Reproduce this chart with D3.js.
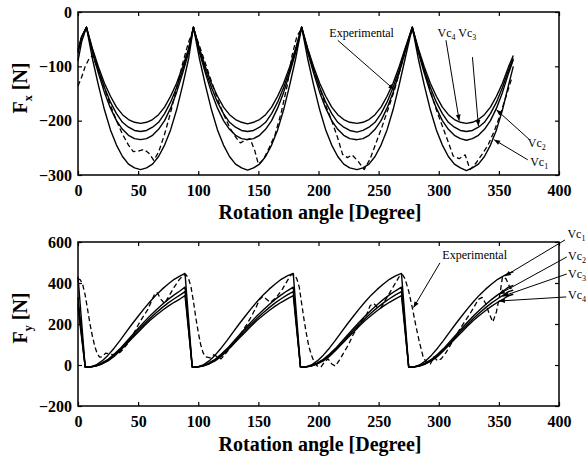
<!DOCTYPE html>
<html>
<head>
<meta charset="utf-8">
<script src="https://cdn.jsdelivr.net/npm/d3@7"></script>
<style>
  body { margin: 0; background: #fff; }
  svg { display: block; }
  svg text { font-family: "Liberation Serif", "DejaVu Serif", serif; }
</style>
</head>
<body>
<div id="chart"></div>
<script>
// ---- data ----
var xTicks = [0, 50, 100, 150, 200, 250, 300, 350, 400];
var fxTicks = [-300, -200, -100, 0];
var fyTicks = [-200, 0, 200, 400, 600];

// Fx panel, simulated curves share one angle list
var angleFx = [0, 3, 7, 12, 17, 22, 27, 32, 37, 42, 47, 52, 57, 62, 67, 72, 77, 82, 87, 92,
  96, 101, 106, 111, 116, 121, 126, 131, 136, 141, 146, 151, 156, 161, 166, 171, 176, 181,
  186, 191, 196, 201, 206, 211, 216, 221, 226, 232, 237, 242, 247, 252, 257, 262, 267, 272,
  278, 283, 288, 293, 298, 303, 308, 313, 318, 323, 328, 333, 338, 343, 348, 353, 358, 362];
var fxVc1 = [-90, -55,
  -28, -86, -135, -180, -217, -245, -266, -280, -287, -290, -287, -280, -266, -245, -217, -180, -135, -86,
  -28, -86, -135, -180, -217, -245, -266, -280, -287, -291, -287, -280, -266, -245, -217, -180, -135, -86,
  -28, -86, -135, -180, -217, -245, -266, -280, -287, -290, -287, -280, -266, -245, -217, -180, -135, -86,
  -28, -86, -135, -180, -217, -245, -266, -280, -287, -292, -287, -280, -266, -245, -217, -180, -135, -100];
var fxVc2 = [-75, -47,
  -28, -74, -113, -148, -177, -200, -216, -227, -233, -235, -233, -227, -216, -200, -177, -148, -113, -74,
  -28, -74, -113, -148, -177, -200, -216, -227, -233, -235, -233, -227, -216, -200, -177, -148, -113, -74,
  -28, -74, -113, -148, -177, -200, -216, -227, -233, -235, -233, -227, -216, -200, -177, -148, -113, -74,
  -28, -74, -113, -148, -177, -200, -216, -227, -233, -236, -233, -227, -216, -200, -177, -148, -113, -88];
var fxVc3 = [-72, -46,
  -28, -70, -107, -139, -166, -187, -203, -212, -218, -220, -218, -212, -203, -187, -166, -139, -107, -70,
  -28, -70, -107, -139, -166, -187, -203, -212, -218, -220, -218, -212, -203, -187, -166, -139, -107, -70,
  -28, -70, -107, -139, -166, -187, -203, -212, -218, -221, -218, -212, -203, -187, -166, -139, -107, -70,
  -28, -70, -107, -139, -166, -187, -203, -212, -218, -220, -218, -212, -203, -187, -166, -139, -107, -85];
var fxVc4 = [-70, -45,
  -28, -67, -101, -131, -155, -175, -189, -198, -203, -205, -203, -198, -189, -175, -155, -131, -101, -67,
  -28, -67, -101, -131, -155, -175, -189, -198, -203, -206, -203, -198, -189, -175, -155, -131, -101, -67,
  -28, -67, -101, -131, -155, -175, -189, -198, -203, -205, -203, -198, -189, -175, -155, -131, -101, -67,
  -28, -67, -101, -131, -155, -175, -189, -198, -203, -205, -203, -198, -189, -175, -155, -131, -101, -80];
// measured Fx (dashed)
var expAngleFx = [0, 3, 6, 9, 12, 17, 22, 27, 32, 37, 42, 46, 50, 55, 59, 63, 67, 72, 77, 82, 87, 92,
  96, 101, 106, 111, 116, 121, 126, 131, 135, 139, 143, 147, 150, 154, 159, 164, 169, 174, 178, 182,
  186, 191, 196, 201, 206, 211, 216, 220, 224, 228, 233, 238, 243, 248, 253, 258, 263, 268, 273,
  278, 283, 288, 293, 298, 303, 308, 312, 317, 322, 326, 331, 336, 341, 346, 351, 356, 361];
var expFx = [-136, -120, -100, -87, -80, -108, -140, -172, -200, -225, -245, -257, -256, -253, -260, -273, -258, -225, -185, -140, -95, -55,
  -32, -62, -95, -128, -160, -188, -212, -230, -241, -236, -233, -255, -280, -272, -250, -225, -185, -135, -80, -45,
  -30, -68, -105, -140, -172, -200, -232, -262, -268, -263, -275, -290, -270, -240, -210, -178, -145, -105, -65,
  -32, -70, -108, -145, -180, -210, -240, -265, -270, -263, -290, -278, -262, -245, -220, -190, -155, -120];

// Fy panel
var angleFy = [0, 3, 6, 10, 15, 20, 25, 30, 35, 40, 45, 50, 55, 60, 65, 70, 75, 80, 85, 89, 92,
  95, 99, 104, 109, 114, 119, 124, 129, 134, 139, 144, 149, 154, 159, 164, 169, 174, 179, 182,
  185, 189, 194, 199, 204, 209, 214, 219, 224, 229, 234, 239, 244, 249, 254, 259, 264, 269, 272,
  275, 279, 284, 289, 294, 299, 304, 309, 314, 319, 324, 329, 334, 339, 344, 349, 354, 358, 362];
var fyVc1 = [430, 210,
  -10, -10, 0, 20, 48, 82, 120, 160, 200, 238, 275, 310, 342, 370, 395, 418, 435, 447, 220,
  -10, -10, 0, 20, 48, 82, 120, 160, 200, 238, 275, 310, 342, 370, 395, 418, 435, 447, 220,
  -10, -10, 0, 20, 48, 82, 120, 160, 200, 238, 275, 310, 342, 370, 395, 418, 435, 447, 220,
  -10, -10, 0, 20, 48, 82, 120, 160, 200, 238, 275, 310, 342, 370, 395, 418, 435, 447, 455];
var fyVc2 = [330, 160,
  -10, -10, -3, 10, 28, 52, 80, 112, 145, 178, 210, 240, 268, 295, 320, 342, 362, 380, 185,
  -10, -10, -3, 10, 28, 52, 80, 112, 145, 178, 210, 240, 268, 295, 320, 342, 362, 380, 185,
  -10, -10, -3, 10, 28, 52, 80, 112, 145, 178, 210, 240, 268, 295, 320, 342, 362, 380, 185,
  -10, -10, -3, 10, 28, 52, 80, 112, 145, 178, 210, 240, 268, 295, 320, 342, 362, 380, 388];
var fyVc3 = [300, 145,
  -10, -10, -4, 7, 24, 47, 75, 105, 137, 169, 199, 228, 255, 280, 303, 323, 342, 358, 175,
  -10, -10, -4, 7, 24, 47, 75, 105, 137, 169, 199, 228, 255, 280, 303, 323, 342, 358, 175,
  -10, -10, -4, 7, 24, 47, 75, 105, 137, 169, 199, 228, 255, 280, 303, 323, 342, 358, 175,
  -10, -10, -4, 7, 24, 47, 75, 105, 137, 169, 199, 228, 255, 280, 303, 323, 342, 358, 365];
var fyVc4 = [280, 135,
  -10, -10, -5, 5, 20, 42, 70, 100, 130, 160, 190, 218, 243, 266, 287, 306, 323, 338, 165,
  -10, -10, -5, 5, 20, 42, 70, 100, 130, 160, 190, 218, 243, 266, 287, 306, 323, 338, 165,
  -10, -10, -5, 5, 20, 42, 70, 100, 130, 160, 190, 218, 243, 266, 287, 306, 323, 338, 165,
  -10, -10, -5, 5, 20, 42, 70, 100, 130, 160, 190, 218, 243, 266, 287, 306, 323, 338, 345];
// measured Fy (dashed)
var expAngleFy = [0, 2, 4, 6, 8, 10, 12, 14, 16, 18, 20, 23, 26, 29, 32, 35, 38, 42, 46, 50, 54, 58,
  61, 64, 66, 69, 72, 75, 80, 84, 88, 90, 92, 94, 96, 98, 100, 102, 104, 106,
  110, 113, 116, 119, 122, 126, 130, 135, 140, 144, 148, 151, 154, 157, 160, 165, 170, 174, 177, 180,
  182, 184, 186, 188, 190, 192, 194, 196,
  199, 202, 205, 208, 211, 214, 217, 221, 225, 229, 233, 237, 240, 243, 246, 249, 252, 256, 260, 264,
  267, 270, 272, 275, 278, 281, 284, 287, 290,
  293, 296, 299, 302, 306, 310, 314, 318, 322, 326, 330, 333, 336, 339, 342, 345, 348, 351, 353, 356, 359, 362];
var expFy = [420, 415, 390, 340, 270, 200, 140, 90, 55, 38, 40, 58, 55, 50, 55, 62, 80, 110, 150, 195, 235, 270,
  310, 350, 352, 320, 300, 330, 380, 415, 440, 440, 420, 380, 310, 230, 160, 100, 60, 40,
  35, 50, 40, 30, 50, 80, 110, 150, 195, 235, 280, 320, 335, 320, 305, 330, 370, 410, 440, 440,
  420, 380, 300, 220, 150, 90, 50, 20,
  -5, -10, 15, 30, 5, -5, 20, 60, 100, 150, 190, 225, 245, 290, 300, 280, 280, 320, 360, 400,
  430, 440, 420, 360, 280, 190, 110, 40, 10,
  5, 40, 20, 30, 60, 100, 140, 180, 215, 250, 290, 320, 330, 300, 250, 210, 260, 350, 430, 420, 380, 360];

// ---- page ----
var W = 588, H = 463;
var serif = "'Liberation Serif', 'DejaVu Serif', serif";
var svg = d3.select('#chart').append('svg')
    .attr('width', W)
    .attr('height', H)
    .style('font-family', serif);

svg.append('rect').attr('width', W).attr('height', H).attr('fill', '#fff');

// small filled arrow head
svg.append('defs').append('marker')
    .attr('id', 'head')
    .attr('viewBox', '0 0 10 10')
    .attr('refX', 10).attr('refY', 5)
    .attr('markerWidth', 7).attr('markerHeight', 6)
    .attr('orient', 'auto')
  .append('path')
    .attr('d', 'M0,1 L10,5 L0,9 z')
    .attr('fill', '#000');

var left = 78, right = 559;

function panel(top, bottom, yDomain, yTicks) {
  var x = d3.scaleLinear().domain([0, 400]).range([left, right]);
  var y = d3.scaleLinear().domain(yDomain).range([bottom, top]);

  function clean(g) {
    g.attr('font-family', null).attr('font-size', null);
    g.select('.domain').remove();
    g.selectAll('line').attr('stroke', '#000').attr('stroke-width', 1.2);
    g.selectAll('text')
      .attr('fill', '#000')
      .style('font-family', serif)
      .style('font-size', '16px')
      .style('font-weight', 'bold');
  }

  svg.append('g')
      .attr('transform', 'translate(0,' + bottom + ')')
      .call(d3.axisBottom(x).tickValues(xTicks).tickSizeInner(-4).tickSizeOuter(0).tickPadding(10))
      .call(clean);
  svg.append('g')
      .attr('transform', 'translate(0,' + top + ')')
      .call(d3.axisTop(x).tickValues(xTicks).tickSizeInner(-4).tickSizeOuter(0).tickFormat(''))
      .call(clean);
  svg.append('g')
      .attr('transform', 'translate(' + left + ',0)')
      .call(d3.axisLeft(y).tickValues(yTicks).tickSizeInner(-4).tickSizeOuter(0).tickPadding(6))
      .call(clean);
  svg.append('g')
      .attr('transform', 'translate(' + right + ',0)')
      .call(d3.axisRight(y).tickValues(yTicks).tickSizeInner(-4).tickSizeOuter(0).tickFormat(''))
      .call(clean);

  // frame
  svg.append('rect')
      .attr('x', left).attr('y', top)
      .attr('width', right - left).attr('height', bottom - top)
      .attr('fill', 'none')
      .attr('stroke', '#000')
      .attr('stroke-width', 1.5);

  return {x: x, y: y};
}

function curve(p, angles, values, dashed) {
  var line = d3.line()
      .x(function(d) { return p.x(d[0]); })
      .y(function(d) { return p.y(d[1]); });
  svg.append('path')
      .datum(d3.zip(angles, values))
      .attr('d', line)
      .attr('fill', 'none')
      .attr('stroke', '#000')
      .attr('stroke-width', dashed ? 1.3 : 1.4)
      .attr('stroke-dasharray', dashed ? '5,3' : null)
      .attr('stroke-linejoin', 'round');
}

function arrow(p, from, to) {
  svg.append('line')
      .attr('x1', p.x(from[0])).attr('y1', p.y(from[1]))
      .attr('x2', p.x(to[0])).attr('y2', p.y(to[1]))
      .attr('stroke', '#000')
      .attr('stroke-width', 1)
      .attr('marker-end', 'url(#head)');
}

// label like Vc with a subscript
function vcLabel(p, at, parts) {
  var t = svg.append('text')
      .attr('x', p.x(at[0])).attr('y', p.y(at[1]))
      .style('font-family', serif)
      .style('font-size', '12px');
  parts.forEach(function(n, i) {
    t.append('tspan').attr('dy', i ? -3 : 0).text((i ? ' ' : '') + 'Vc');
    t.append('tspan').attr('dy', 3).style('font-size', '8px').text(n);
  });
}

function yTitle(px, py, sub) {
  var t = svg.append('text')
      .attr('transform', 'translate(' + px + ',' + py + ') rotate(-90)')
      .attr('text-anchor', 'middle')
      .style('font-family', serif)
      .style('font-size', '20px')
      .style('font-weight', 'bold');
  t.append('tspan').text('F');
  t.append('tspan').attr('dy', 5).style('font-size', '12px').text(sub);
  t.append('tspan').attr('dy', -5).text(' [N]');
}

function xTitle(py) {
  svg.append('text')
      .attr('x', 320)
      .attr('y', py)
      .attr('text-anchor', 'middle')
      .style('font-family', serif)
      .style('font-size', '20px')
      .style('font-weight', 'bold')
      .text('Rotation angle [Degree]');
}

// ---- top: Fx ----
var top1 = panel(12, 175, [-300, 0], fxTicks);
curve(top1, angleFx, fxVc1, false);
curve(top1, angleFx, fxVc2, false);
curve(top1, angleFx, fxVc3, false);
curve(top1, angleFx, fxVc4, false);
curve(top1, expAngleFx, expFx, true);
yTitle(27, 88, 'x');
xTitle(219);

svg.append('text')
    .attr('x', top1.x(209)).attr('y', top1.y(-46))
    .style('font-family', serif)
    .style('font-size', '12px')
    .text('Experimental');
arrow(top1, [216, -52], [263, -143]);
vcLabel(top1, [299, -46], ['4', '3']);
arrow(top1, [306, -52], [317, -200]);
arrow(top1, [328, -83], [333, -210]);
vcLabel(top1, [374, -248], ['2']);
arrow(top1, [375, -234], [348, -180]);
vcLabel(top1, [376, -283], ['1']);
arrow(top1, [374, -272], [346, -235]);

// ---- bottom: Fy ----
var bot = panel(242, 406, [-200, 600], fyTicks);
curve(bot, angleFy, fyVc1, false);
curve(bot, angleFy, fyVc2, false);
curve(bot, angleFy, fyVc3, false);
curve(bot, angleFy, fyVc4, false);
curve(bot, expAngleFy, expFy, true);
yTitle(27, 318, 'y');
xTitle(451);

svg.append('text')
    .attr('x', bot.x(303)).attr('y', bot.y(517))
    .style('font-family', serif)
    .style('font-size', '12px')
    .text('Experimental');
arrow(bot, [301, 498], [279, 280]);
vcLabel(bot, [407, 620], ['1']);
arrow(bot, [405, 610], [355, 434]);
vcLabel(bot, [407.5, 512], ['2']);
arrow(bot, [406.5, 527], [350, 345]);
vcLabel(bot, [407.5, 424], ['3']);
arrow(bot, [406.5, 444], [353, 335]);
vcLabel(bot, [407.5, 322], ['4']);
arrow(bot, [406, 332], [350, 312]);
</script>
</body>
</html>
